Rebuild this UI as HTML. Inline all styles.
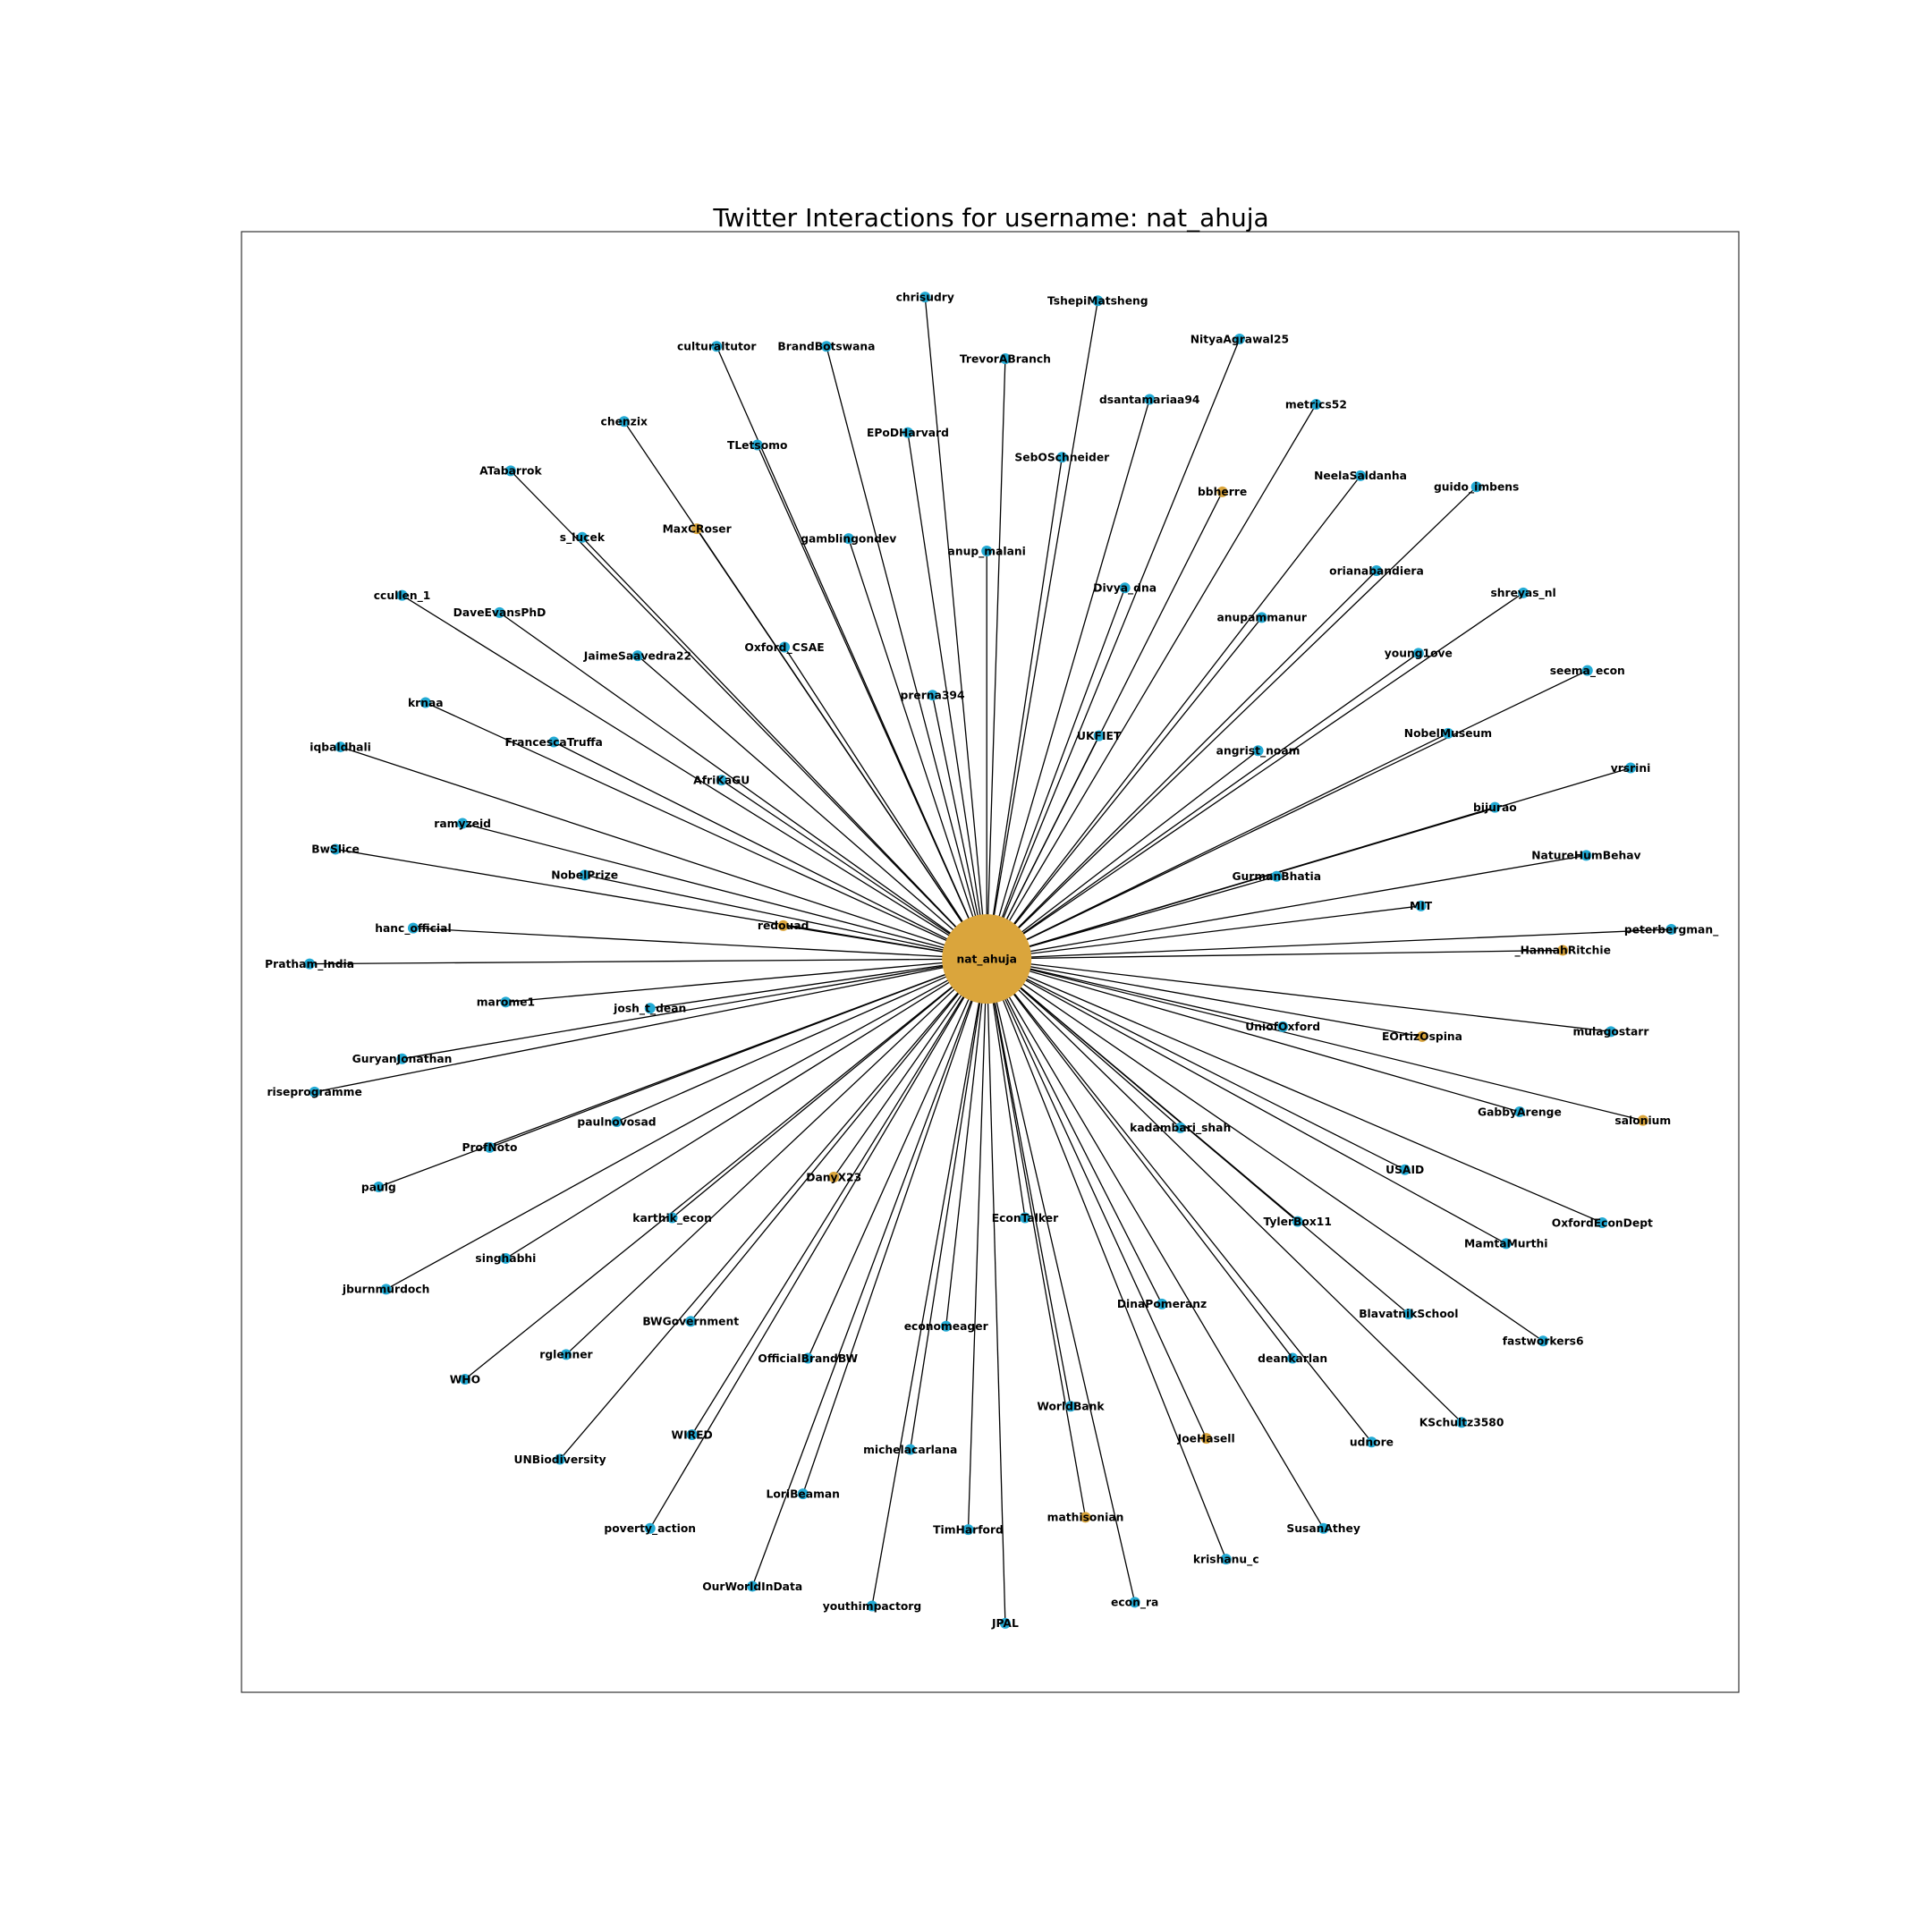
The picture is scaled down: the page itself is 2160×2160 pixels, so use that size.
<!DOCTYPE html>
<html><head><meta charset="utf-8"><style>
html,body{margin:0;padding:0;background:#fff}
svg{display:block}
text{font-family:"DejaVu Sans","Liberation Sans",sans-serif}
</style></head><body>
<svg id="chart" width="2160" height="2160" viewBox="0 0 2160 2160" xmlns="http://www.w3.org/2000/svg">
<rect x="270" y="259" width="1674" height="1633" fill="none" stroke="#333" stroke-width="1.2"/>
<text x="1108" y="253" font-size="28" text-anchor="middle" fill="#000">Twitter Interactions for username: nat_ahuja</text>
<g id="edges"></g><g id="nodes"></g><g id="labels"></g>
</svg>
<script>
const centerName = "nat_ahuja";
const centerPos = [800, 778];
const names = ["chrisudry","TshepiMatsheng","culturaltutor","BrandBotswana","TrevorABranch","NityaAgrawal25","dsantamariaa94","metrics52","chenzix","EPoDHarvard","TLetsomo","SebOSchneider","ATabarrok","NeelaSaldanha","bbherre","guido_imbens","MaxCRoser","s_lucek","gamblingondev","anup_malani","orianabandiera","Divya_dna","shreyas_nl","ccullen_1","DaveEvansPhD","anupammanur","Oxford_CSAE","JaimeSaavedra22","young1ove","seema_econ","prerna394","krnaa","UKFIET","NobelMuseum","FrancescaTruffa","iqbaldhali","angrist_noam","vrsrini","AfriKaGU","bijurao","ramyzeid","BwSlice","NatureHumBehav","NobelPrize","GurmanBhatia","MIT","hanc_official","redouad","peterbergman_","_HannahRitchie","Pratham_India","marome1","josh_t_dean","UniofOxford","mulagostarr","EOrtizOspina","GuryanJonathan","riseprogramme","paulnovosad","salonium","GabbyArenge","kadambari_shah","ProfNoto","USAID","DanyX23","paulg","karthik_econ","EconTalker","TylerBox11","OxfordEconDept","MamtaMurthi","singhabhi","jburnmurdoch","DinaPomeranz","BlavatnikSchool","BWGovernment","economeager","fastworkers6","rglenner","OfficialBrandBW","deankarlan","WHO","WorldBank","KSchultz3580","WIRED","JoeHasell","udnore","michelacarlana","UNBiodiversity","LoriBeaman","mathisonian","poverty_action","TimHarford","SusanAthey","krishanu_c","OurWorldInData","econ_ra","youthimpactorg","JPAL"];
const xs = [750,890,581,670,815,1005,932,1067,506,736,614,861,414,1103,991,1197,565,472,688,800,1116,912,1235,326,405,1023,636,517,1150,1287,756,345,891,1174,449,276,1020,1322,585,1212,375,272,1286,474,1035,1152,335,635,1355,1267,251,410,527,1040,1306,1153,326,255,500,1332,1232,957,397,1139,676,307,545,831,1052,1299,1221,410,313,942,1142,560,767,1251,459,655,1048,377,868,1185,561,978,1112,738,454,651,880,527,785,1073,994,610,920,707,815];
const ys = [241,244,281,281,291,275,324,328,342,351,361,371,382,386,399,395,429,436,437,447,463,477,481,483,497,501,525,532,530,544,564,570,597,595,602,606,609,623,633,655,668,689,694,710,711,735,753,751,754,771,782,813,818,833,837,841,859,886,910,909,902,915,931,949,955,963,988,988,991,992,1009,1021,1046,1058,1066,1072,1076,1088,1099,1102,1102,1119,1141,1154,1164,1167,1170,1176,1184,1212,1231,1240,1241,1240,1265,1287,1300,1303,1317];
const orangeSet = ["bbherre","MaxCRoser","redouad","_HannahRitchie","EOrtizOspina","salonium","DanyX23","JoeHasell","mathisonian"];
const SX = v => v * 1.379;
const SY = v => v * 1.378;
const NS = "http://www.w3.org/2000/svg";
const eg = document.getElementById('edges'), ng = document.getElementById('nodes'), lg = document.getElementById('labels');
const cx = SX(centerPos[0]), cy = SY(centerPos[1]);
names.forEach((n, i) => {
  const x = SX(xs[i]), y = SY(ys[i]);
  const l = document.createElementNS(NS, 'line');
  l.setAttribute('x1', cx); l.setAttribute('y1', cy); l.setAttribute('x2', x); l.setAttribute('y2', y);
  l.setAttribute('stroke', '#000'); l.setAttribute('stroke-width', '1.3');
  
  
  eg.appendChild(l);
  const c = document.createElementNS(NS, 'circle');
  c.setAttribute('cx', x); c.setAttribute('cy', y); c.setAttribute('r', 6);
  c.setAttribute('fill', orangeSet.includes(n) ? '#daa53c' : '#22aad4');
  
  
  ng.appendChild(c);
  const t = document.createElementNS(NS, 'text');
  t.setAttribute('x', x); t.setAttribute('y', y + 4.3);
  t.setAttribute('text-anchor', 'middle'); t.setAttribute('font-size', '12.3'); t.setAttribute('font-weight', 'bold');
  t.textContent = n;
  
  
  lg.appendChild(t);
});
const cc = document.createElementNS(NS, 'circle');
cc.setAttribute('cx', cx); cc.setAttribute('cy', cy); cc.setAttribute('r', 50); cc.setAttribute('fill', '#daa53c');


ng.appendChild(cc);
const ct = document.createElementNS(NS, 'text');
ct.setAttribute('x', cx); ct.setAttribute('y', cy + 4.3);
ct.setAttribute('text-anchor', 'middle'); ct.setAttribute('font-size', '12.3'); ct.setAttribute('font-weight', 'bold');
ct.textContent = centerName;


lg.appendChild(ct);
</script>
</body></html>
